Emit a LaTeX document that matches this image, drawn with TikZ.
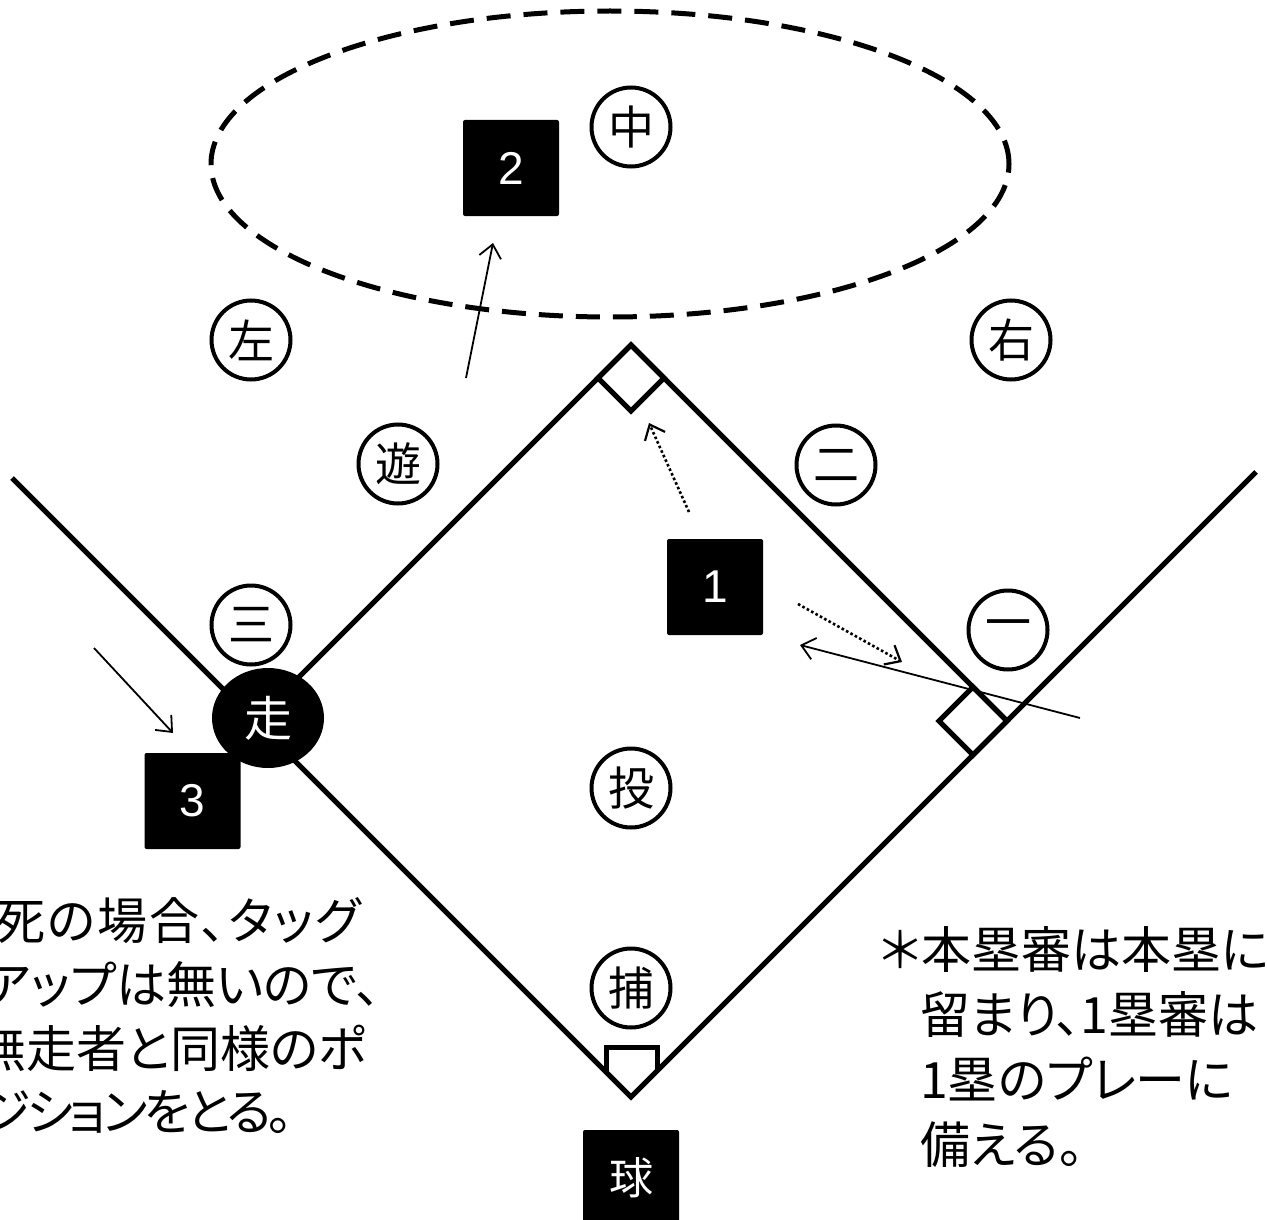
\documentclass[tikz,border=0pt]{standalone}
\usepackage{fontspec}
\setmainfont{Liberation Sans}
\newfontfamily\jp{Noto Sans CJK JP}
\newfontfamily\jpp[RawFeature=+palt]{Noto Sans CJK JP}
\newfontfamily\jpwide[RawFeature=+palt,LetterSpace=4]{Noto Sans CJK JP}
\newfontfamily\jptight[RawFeature=+palt,LetterSpace=-7]{Noto Sans CJK JP}
\usetikzlibrary{arrows.meta,shapes.geometric}
\begin{document}
\begin{tikzpicture}[x=1pt,y=-1pt,
 fielder/.style={circle,draw,line width=4pt,fill=white,minimum size=79pt,inner sep=0pt,font=\jp\fontsize{46}{46}\selectfont},
 ump/.style={rectangle,rounded corners=2pt,fill=black,text=white,minimum size=96pt,inner sep=0pt,font=\fontsize{46}{46}\selectfont},
 field/.style={line width=5pt,line join=miter},
 arr/.style={line width=1.8pt,-{Straight Barb[length=13pt,width=22pt,line width=1.8pt]}},
 darr/.style={line width=2.6pt,dash pattern=on 2.6pt off 2.4pt,-{Straight Barb[length=13pt,width=22pt,line width=2.2pt]}},
 note/.style={anchor=base west,inner sep=0pt,font=\jpp\fontsize{50}{64}\selectfont}
]
\useasboundingbox (0,0) rectangle (1267,1220);
% field
\coordinate (H) at (631,1097);
\coordinate (F) at (1007,721);
\coordinate (S) at (631,345);
\coordinate (T) at (255,721);
\coordinate (RF) at (1256,472);
\coordinate (LF) at (12,478);
\draw[field] (LF) -- (H) -- (RF);
\draw[field] (T) -- (S) -- (F);
\draw[field] (S) -- ++(-33,33) -- ++(33,33) -- ++(33,-33) -- cycle;
\draw[field] (F) -- ++(-34,-34) -- ++(-34,34) -- ++(34,34) -- cycle;
\draw[field] (606,1072) -- (606,1047) -- (657,1047) -- (657,1071);
% outfield zone
\node[ellipse,draw,line width=5pt,dash pattern=on 24pt off 13pt,minimum width=798pt,minimum height=306pt,inner sep=0pt] (of) at (610,164) {};
% fielders
\node[fielder] (cf) at (631,127) {中};
\node[fielder] (lf) at (251,340) {左};
\node[fielder] (rf) at (1011,340) {右};
\node[fielder] (ss) at (398,464) {遊};
\node[fielder] (b2) at (836,465) {二};
\node[fielder] (b3) at (251,625) {三};
\node[fielder] (b1) at (1008,630) {一};
\node[fielder] (p) at (631,788) {投};
\node[fielder] (c) at (631,988) {捕};
% umpires
\node[ump] (u2) at (511,168) {2};
\node[ump] (u1) at (715,587) {1};
\node[ump] (u3) at (192.5,801) {3};
\node[ump,font=\jp\fontsize{44}{44}\selectfont] (pu) at (631,1178) {球};
\node[ellipse,fill=black,text=white,minimum width=112pt,minimum height=100pt,inner sep=0pt,font=\jp\fontsize{48}{48}\selectfont] (run) at (268,718) {走};
% movements
\coordinate (a1s) at (466,378); \coordinate (a1e) at (493,243);
\coordinate (a2s) at (689,512); \coordinate (a2e) at (649,423);
\coordinate (a3s) at (798,604); \coordinate (a3e) at (902,662);
\coordinate (a4s) at (1080,718); \coordinate (a4e) at (800,645);
\coordinate (a5s) at (94,648); \coordinate (a5e) at (173,733);
\draw[arr] (a1s) -- (a1e);
\draw[darr] (a2s) -- (a2e);
\draw[darr] (a3s) -- (a3e);
\draw[arr] (a4s) -- (a4e);
\draw[arr] (a5s) -- (a5e);
% notes
\node[note,font=\jpwide\fontsize{50}{64}\selectfont] (n1) at (-5,939) {死の場合、タッグ};
\node[note] (n2) at (-16,1003) {アップは無いので、};
\node[note] (n3) at (-24,1067) {無走者と同様のポ};
\node[note,font=\jptight\fontsize{50}{64}\selectfont] (n4) at (-19,1130) {ジションをとる。};
\node[note] (m1) at (880,968) {＊本塁審は本塁に};
\node[note] (m2) at (920,1033) {留まり、1塁審は};
\node[note] (m3) at (920,1098) {1塁のプレーに};
\node[note] (m4) at (920,1163) {備える。};
\end{tikzpicture}
\end{document}
